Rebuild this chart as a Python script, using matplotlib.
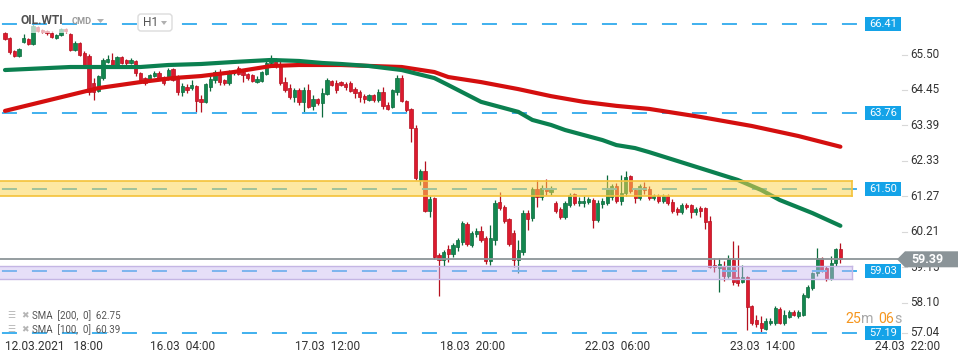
import matplotlib
matplotlib.use("Agg")
import matplotlib.pyplot as plt
from matplotlib.patches import Rectangle, Polygon, FancyBboxPatch
from matplotlib.transforms import Affine2D
import numpy as np

plt.rcParams['font.family'] = ['Roboto', 'DejaVu Sans']
plt.rcParams['lines.scale_dashes'] = False

# ---------------- data ----------------
opens = [66.15, 65.99, 65.61, 65.46, 65.88, 65.97, 65.82, 66.32, 66.23, 66.20,
         66.15, 66.00, 66.10, 66.25, 66.12, 65.64, 65.85, 65.55, 65.46, 64.65,
         64.41, 64.80, 65.28, 65.34, 65.19, 65.43, 65.34, 65.25, 65.31, 64.95,
         64.80, 64.74, 64.86, 64.95, 64.83, 64.80, 65.07, 64.80, 64.38, 64.53,
         64.50, 64.56, 64.18, 64.09, 64.53, 64.74, 64.98, 64.74, 64.65, 64.95,
         65.10, 64.98, 64.92, 64.89, 64.68, 64.71, 64.92, 65.25, 65.31, 65.22,
         64.68, 64.50, 64.23, 64.44, 64.09, 64.44, 63.97, 64.18, 64.06, 64.32,
         64.71, 64.65, 64.68, 64.62, 64.65, 64.47, 64.38, 64.26, 64.15, 64.30,
         64.15, 64.38, 64.00, 63.94, 64.38, 64.80, 64.12, 63.88, 63.31, 61.76,
         62.03, 60.83, 61.22, 59.52, 59.37, 59.70, 59.55, 59.76, 59.91, 60.44,
         59.82, 60.14, 60.23, 60.02, 59.34, 59.97, 61.10, 60.95, 60.59, 60.17,
         59.37, 59.61, 60.77, 60.62, 61.49, 61.25, 61.52, 61.40, 61.07, 60.89,
         60.65, 61.01, 61.34, 61.07, 61.07, 61.10, 61.16, 60.56, 61.04, 61.07,
         61.25, 61.58, 61.13, 61.37, 61.88, 61.46, 61.22, 61.55, 61.49, 61.22,
         61.28, 61.13, 61.28, 61.10, 60.89, 60.80, 61.01, 61.01, 60.80, 60.92,
         60.92, 60.53, 59.22, 59.13, 59.19, 58.89, 59.37, 58.86, 58.71, 58.86,
         57.99, 57.58, 57.49, 57.31, 57.49, 57.49, 57.91, 57.49, 57.67, 57.82,
         57.70, 57.73, 58.26, 58.53, 58.98, 59.43, 59.13, 58.80, 59.28, 59.70]
closes = [65.97, 65.58, 65.46, 65.67, 66.00, 65.82, 66.35, 66.20, 66.17, 66.15,
          66.03, 66.08, 66.26, 66.20, 65.64, 65.85, 65.49, 65.19, 64.38, 64.38,
          64.86, 65.34, 65.37, 65.19, 65.43, 65.25, 65.25, 65.34, 64.95, 64.74,
          64.65, 64.89, 64.95, 64.80, 64.65, 65.04, 64.74, 64.38, 64.56, 64.44,
          64.59, 64.12, 64.09, 64.62, 64.77, 64.98, 64.68, 64.65, 64.98, 65.00,
          64.92, 64.89, 64.80, 64.71, 64.77, 64.98, 65.25, 65.37, 65.19, 64.65,
          64.44, 64.23, 64.44, 64.09, 64.44, 63.94, 64.18, 64.06, 64.35, 64.74,
          64.59, 64.44, 64.59, 64.53, 64.41, 64.35, 64.23, 64.17, 64.30, 64.15,
          64.38, 63.97, 63.88, 64.44, 64.80, 64.12, 63.85, 63.31, 61.82, 62.03,
          60.83, 61.19, 59.46, 59.37, 59.61, 59.55, 59.82, 59.97, 60.47, 59.85,
          60.17, 60.23, 59.97, 59.34, 60.02, 61.07, 60.92, 60.53, 59.85, 59.37,
          59.67, 60.77, 60.59, 61.49, 61.25, 61.52, 61.43, 61.52, 60.83, 60.65,
          61.07, 61.31, 61.07, 61.13, 61.13, 61.19, 60.56, 61.07, 61.13, 61.52,
          61.58, 61.13, 61.37, 61.85, 61.43, 61.22, 61.58, 61.46, 61.22, 61.28,
          61.13, 61.28, 61.07, 60.83, 60.80, 61.01, 60.95, 60.80, 60.89, 60.83,
          60.50, 59.16, 59.16, 59.25, 58.89, 59.40, 58.71, 58.68, 58.86, 57.97,
          57.49, 57.46, 57.34, 57.55, 57.55, 57.94, 57.49, 57.73, 57.82, 57.73,
          57.82, 58.32, 58.56, 58.98, 59.43, 59.07, 58.80, 59.28, 59.70, 59.39]
highs = [66.18, 66.03, 65.64, 65.69, 66.12, 66.00, 66.40, 66.35, 66.26, 66.23,
         66.20, 66.12, 66.30, 66.30, 66.15, 65.90, 65.88, 65.60, 65.52, 64.80,
         64.90, 65.40, 65.50, 65.55, 65.47, 65.47, 65.37, 65.40, 65.34, 64.98,
         64.83, 64.92, 65.00, 65.00, 64.86, 65.10, 65.10, 64.89, 64.65, 64.62,
         64.74, 64.59, 64.29, 64.65, 64.86, 65.04, 65.07, 64.77, 65.04, 65.05,
         65.15, 65.04, 64.95, 64.92, 64.86, 65.00, 65.30, 65.49, 65.40, 65.30,
         64.83, 64.62, 64.50, 64.50, 64.53, 64.62, 64.29, 64.20, 64.50, 64.80,
         64.74, 64.74, 64.71, 64.68, 64.71, 64.53, 64.44, 64.32, 64.33, 64.33,
         64.47, 64.53, 64.09, 64.47, 64.89, 64.89, 64.15, 63.90, 63.40, 62.10,
         62.32, 61.28, 61.25, 59.58, 59.67, 59.82, 59.88, 60.03, 60.53, 60.50,
         60.23, 60.32, 60.38, 60.10, 60.41, 61.16, 61.40, 61.01, 60.62, 60.26,
         59.97, 60.86, 60.86, 61.55, 61.76, 61.61, 61.79, 61.58, 61.13, 60.95,
         61.13, 61.37, 61.37, 61.25, 61.28, 61.25, 61.22, 61.16, 61.22, 61.91,
         61.64, 61.67, 61.91, 62.03, 61.91, 61.52, 61.64, 61.70, 61.58, 61.34,
         61.34, 61.34, 61.34, 61.19, 60.95, 61.07, 61.07, 61.04, 60.95, 60.98,
         60.95, 60.68, 59.43, 59.43, 59.34, 59.52, 59.94, 59.82, 59.22, 58.89,
         58.02, 57.73, 57.70, 57.64, 57.64, 58.00, 57.97, 57.88, 57.88, 57.88,
         57.88, 58.38, 58.62, 59.00, 59.73, 59.46, 59.19, 59.49, 59.73, 59.88]
lows = [65.94, 65.52, 65.43, 65.44, 65.85, 65.79, 65.79, 66.17, 66.14, 66.10,
        66.00, 65.97, 66.07, 66.15, 65.60, 65.60, 65.45, 65.16, 64.29, 64.15,
        64.38, 64.75, 65.25, 65.15, 65.16, 65.22, 65.20, 65.22, 64.85, 64.70,
        64.60, 64.70, 64.83, 64.75, 64.60, 64.75, 64.70, 64.29, 64.25, 64.35,
        64.44, 63.79, 63.79, 64.06, 64.41, 64.65, 64.60, 64.60, 64.60, 64.90,
        64.88, 64.68, 64.75, 64.68, 64.65, 64.68, 64.90, 65.16, 65.10, 64.60,
        64.38, 64.17, 64.09, 64.00, 63.76, 63.90, 63.85, 64.00, 63.64, 64.30,
        64.56, 64.35, 64.55, 64.44, 64.38, 64.20, 64.09, 64.06, 64.12, 64.10,
        64.09, 63.88, 63.85, 63.90, 64.29, 64.09, 63.80, 62.89, 61.76, 61.60,
        60.80, 60.65, 59.40, 58.29, 59.19, 59.31, 59.46, 59.64, 59.82, 59.80,
        59.76, 60.05, 59.90, 59.25, 59.22, 59.82, 60.86, 60.47, 59.80, 59.16,
        58.98, 59.52, 60.26, 60.53, 60.95, 61.16, 61.31, 61.31, 60.77, 60.59,
        60.59, 60.95, 61.01, 60.98, 60.95, 61.04, 60.32, 60.50, 60.92, 61.01,
        61.16, 61.07, 61.01, 61.28, 61.37, 61.07, 61.16, 61.34, 61.16, 61.16,
        61.07, 61.07, 61.01, 60.77, 60.71, 60.74, 60.90, 60.62, 60.71, 60.65,
        60.29, 59.13, 59.01, 58.41, 58.74, 58.83, 58.62, 58.59, 58.68, 57.28,
        57.43, 57.37, 57.22, 57.28, 57.43, 57.43, 57.46, 57.43, 57.64, 57.70,
        57.64, 57.70, 58.23, 58.47, 58.89, 59.01, 58.74, 58.77, 59.19, 59.28]

sma100_idx = [0, 14, 29, 35, 42, 49, 57, 63, 68, 72, 78, 85, 92, 95, 102, 110,
              113, 117, 120, 124, 128, 131, 135, 138, 149, 157, 162, 166, 173, 179]
sma100_val = [65.04, 65.13, 65.13, 65.19, 65.22, 65.28, 65.34, 65.31, 65.25, 65.22,
              65.16, 65.04, 64.80, 64.59, 64.09, 63.79, 63.55, 63.40, 63.25, 63.10,
              62.95, 62.80, 62.71, 62.59, 62.11, 61.76, 61.46, 61.16, 60.77, 60.39]
sma200_idx = [0, 20, 29, 36, 42, 49, 57, 63, 72, 85, 92, 95, 102, 110, 117, 124,
              131, 138, 149, 160, 170, 179]
sma200_val = [63.82, 64.50, 64.68, 64.80, 64.86, 64.98, 65.16, 65.19, 65.19, 65.13,
              64.98, 64.83, 64.68, 64.47, 64.26, 64.09, 63.97, 63.88, 63.64, 63.37,
              63.07, 62.75]

level_values = [66.41, 63.76, 61.50, 59.03, 57.19]
zone_yellow = [61.28, 61.73]
zone_lavender = [58.80, 59.19]
last_price = 59.39
price_ticks = [65.50, 64.45, 63.39, 62.33, 61.27, 60.21, 59.15, 58.10, 57.04]
time_labels = ["12.03.2021   18:00", "16.03  04:00", "17.03  12:00", "18.03  20:00",
               "22.03  06:00", "23.03  14:00", "24.03  22:00"]
legend_labels = ["SMA  [200,  0]  62.75", "SMA  [100,  0]  60.39"]
symbol = "OIL.WTI"
group = "CMD"
interval = "H1"
countdown = ["25", "m", "06", "s"]

# ---------------- figure ----------------
W, H = 970, 364
fig = plt.figure(figsize=(W / 100, H / 100), dpi=100)
ax = fig.add_axes([0, 0, 1, 1])
ax.set_axis_off()
step = 4.667          # pixels per candle
ppu = 33.5            # pixels per price unit
ax.set_xlim(-5 / step, (W - 5) / step)
ax.set_ylim(57.19 - (H - 333) / ppu, 57.19 + 333 / ppu)

# pixel transform (origin top-left)
T = Affine2D().scale(1 / W, -1 / H).translate(0, 1) + ax.transAxes
YT = ax.get_yaxis_transform()   # x axes fraction, y data

RED, RED_E = '#dc1a2e', '#b5101f'
GRN, GRN_E = '#13874f', '#0b6a3c'
BLUE = '#3fb0ee'

o = np.array(opens); c = np.array(closes); hi = np.array(highs); lo = np.array(lows)
idx = np.arange(len(o))
up = c >= o
cols = np.where(up, GRN, RED)
ecols = np.where(up, GRN_E, RED_E)

# header backdrop
ax.add_patch(Rectangle((14, 6), 170, 27, transform=T, facecolor='white',
                       alpha=0.65, edgecolor='none', zorder=4.5))

# candles
ax.vlines(idx, lo, hi, colors=ecols, lw=0.9, zorder=3)
body_lo = np.minimum(o, c)
body_h = np.maximum(np.abs(c - o), 0.035)
ax.bar(idx, body_h, bottom=body_lo, width=0.66, color=cols, edgecolor=ecols,
       linewidth=0.5, zorder=4)

# dashed levels
for v in level_values:
    ax.plot([0, 858 / W], [v, v], transform=YT, color=BLUE, lw=1.4,
            linestyle=(20.2, (10.8, 10.8)), zorder=4.6)

# SMAs
ax.plot(sma200_idx, sma200_val, color='#d40f0f', lw=3.0, zorder=5,
        solid_capstyle='round', solid_joinstyle='round')
ax.plot(sma100_idx, sma100_val, color='#0b8050', lw=3.0, zorder=5,
        solid_capstyle='round', solid_joinstyle='round')

# zones
ax.add_patch(Rectangle((0, zone_yellow[0]), 852 / W, zone_yellow[1] - zone_yellow[0],
                       transform=YT, facecolor='#fcd34d', alpha=0.52,
                       edgecolor='none', zorder=6))
for v in zone_yellow:
    ax.plot([0, 852 / W], [v, v], transform=YT, color='#f4c23a', lw=1.2, zorder=6.1)
ax.plot([852 / W] * 2, zone_yellow, transform=YT, color='#f4c23a', lw=1.2, zorder=6.1)
ax.add_patch(Rectangle((0, zone_lavender[0]), 852 / W, zone_lavender[1] - zone_lavender[0],
                       transform=YT, facecolor='#c9b9f0', alpha=0.45,
                       edgecolor='none', zorder=6))
for v in zone_lavender:
    ax.plot([0, 852 / W], [v, v], transform=YT, color='#c4b6e4', lw=1.0, zorder=6.1)
ax.plot([852 / W] * 2, zone_lavender, transform=YT, color='#c4b6e4', lw=1.0, zorder=6.1)

# current price line
ax.plot([0, 900 / W], [last_price, last_price], transform=YT, color='#8c9599',
        lw=1.3, zorder=7)

# level label boxes
for v in level_values:
    ax.add_patch(Rectangle((865 / W, v - 7 / ppu), 36 / W, 14 / ppu, transform=YT,
                           facecolor='#14a3e8', edgecolor='none', zorder=8))
    ax.text(883 / W, v, f"{v:.2f}", transform=YT, ha='center', va='center',
            color='white', fontsize=8, zorder=9)

# price axis labels
for v in price_ticks:
    ypix = min(333 - (v - 57.19) * ppu, 333)
    ax.text(910, ypix, f"{v:.2f}", transform=T, ha='left', va='center',
            color='#333333', fontsize=8.4, zorder=8)
    ax.plot([902, 907], [ypix, ypix], transform=T, color='#d8d8d8', lw=0.8, zorder=8)

# last price tag
ylp = 333 - (last_price - 57.19) * ppu
ax.add_patch(Polygon([(897, ylp), (905, ylp - 8), (958, ylp - 8), (958, ylp + 8),
                      (905, ylp + 8)], closed=True, transform=T,
                     facecolor='#8b9498', edgecolor='none', zorder=10))
ax.text(911, ylp, f"{last_price:.2f}", transform=T, ha='left', va='center',
        color='white', fontsize=9, fontweight='bold', zorder=11)

# time labels
for i, lab in enumerate(time_labels):
    ax.text(5 + i * 145, 347, lab, transform=T, ha='left', va='center',
            color='#333333', fontsize=8.6, zorder=8)

# countdown
cd_x = [845, 861, 878, 894]
cd_c = ['#f5961f', '#a8a8a8', '#f5961f', '#a8a8a8']
for s, xx, cc in zip(countdown, cd_x, cd_c):
    ax.text(xx, 319, s, transform=T, ha='left', va='center', color=cc,
            fontsize=10.2, zorder=8)

# legend
for k, lab in enumerate(legend_labels):
    yy = 316 + k * 14
    ax.text(7, yy, "☰", transform=T, ha='left', va='center', color='#b5b5b5',
            fontsize=6.5, family=['DejaVu Sans'], zorder=8)
    ax.text(21, yy, "✖", transform=T, ha='left', va='center', color='#b5b5b5',
            fontsize=6.5, family=['DejaVu Sans'], zorder=8)
    ax.text(32, yy, lab, transform=T, ha='left', va='center', color='#555555',
            fontsize=7.0, zorder=8)

# header
ax.text(21, 21, symbol, transform=T, ha='left', va='center', color='#505050',
        fontsize=8.6, fontweight='bold', zorder=9)
ax.text(72, 22, group, transform=T, ha='left', va='center', color='#9a9a9a',
        fontsize=6.6, fontweight='bold', zorder=9)
ax.add_patch(Polygon([(97, 19), (104, 19), (100.5, 23)], closed=True, transform=T,
                     facecolor='#b0b0b0', edgecolor='none', zorder=9))
ax.add_patch(FancyBboxPatch((138, 14), 34, 17, boxstyle='round,pad=0,rounding_size=3',
                            transform=T, facecolor='white', edgecolor='#dcdcdc',
                            lw=1.0, zorder=9))
ax.text(143, 23, interval, transform=T, ha='left', va='center', color='#555555',
        fontsize=8.6, zorder=10)
ax.add_patch(Polygon([(161, 21), (167, 21), (164, 25)], closed=True, transform=T,
                     facecolor='#b0b0b0', edgecolor='none', zorder=10))

fig.savefig("out.png", dpi=100)
